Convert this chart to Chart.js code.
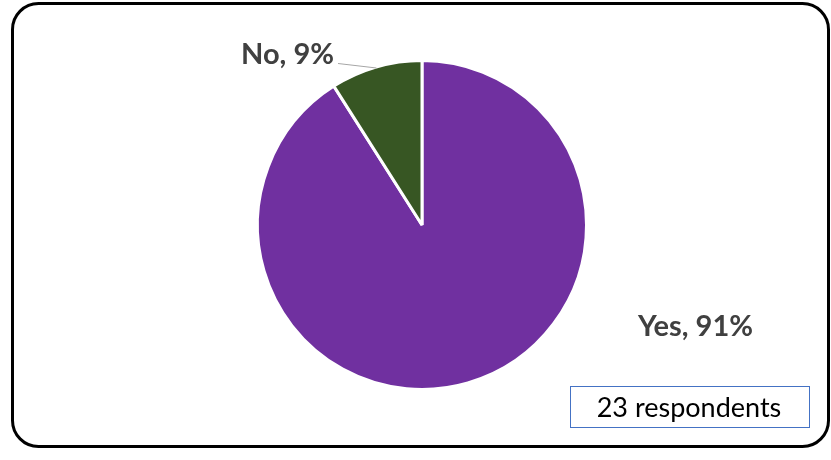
<!DOCTYPE html>
<html>
<head>
<meta charset="utf-8">
<script src="https://cdn.jsdelivr.net/npm/chart.js@4.4.1/dist/chart.umd.min.js"></script>
<style>
  html, body { margin: 0; padding: 0; background: #fff; }
  #wrap { position: relative; width: 831px; height: 460px; }
</style>
</head>
<body>
<div id="wrap"><canvas id="pie"></canvas></div>
<script>
const categories = ['Yes', 'No'];
const shares = [91, 9];
const sliceColors = ['#7030A0', '#375623'];
const respondents = 23;

// frame, data labels and the respondent count box
const decorations = {
  id: 'decorations',
  afterDraw(chart) {
    const c = chart.ctx;
    const arcs = chart.getDatasetMeta(0).data;
    c.save();

    // rounded outer frame
    c.strokeStyle = '#000';
    c.lineWidth = 3;
    c.beginPath();
    c.roundRect(12.5, 3.5, 816, 443, 26);
    c.stroke();

    // leader line from the "No" label to the middle of its slice edge
    const no = arcs[1];
    const mid = (no.startAngle + no.endAngle) / 2;
    const ex = no.x + Math.cos(mid) * (no.outerRadius - 1);
    const ey = no.y + Math.sin(mid) * (no.outerRadius - 1);
    c.strokeStyle = '#A6A6A6';
    c.lineWidth = 1;
    c.beginPath();
    c.moveTo(338, 63.5);
    c.lineTo(ex, ey);
    c.stroke();

    // data labels
    c.fillStyle = '#404040';
    c.font = 'bold 29px Lato';
    c.textBaseline = 'alphabetic';
    c.textAlign = 'right';
    c.fillText(categories[1] + ', ' + shares[1] + '%', 334, 64);
    c.textAlign = 'left';
    c.fillText(categories[0] + ', ' + shares[0] + '%', 638, 336);

    // respondent count box
    c.strokeStyle = '#4472C4';
    c.lineWidth = 1;
    c.strokeRect(570.5, 386.5, 239, 41);
    c.fillStyle = '#000';
    c.font = '27px Lato';
    c.textAlign = 'center';
    c.fillText(respondents + ' respondents', 689, 417);

    c.restore();
  }
};

new Chart(document.getElementById('pie'), {
  type: 'pie',
  data: {
    labels: categories,
    datasets: [{
      data: shares,
      backgroundColor: sliceColors,
      borderColor: '#fff',
      borderWidth: 3
    }]
  },
  options: {
    responsive: true,
    maintainAspectRatio: false,
    animation: false,
    layout: { padding: { top: 59, bottom: 69, left: 100, right: 87 } },
    plugins: {
      legend: { display: false },
      tooltip: { enabled: false }
    }
  },
  plugins: [decorations]
});
</script>
</body>
</html>
